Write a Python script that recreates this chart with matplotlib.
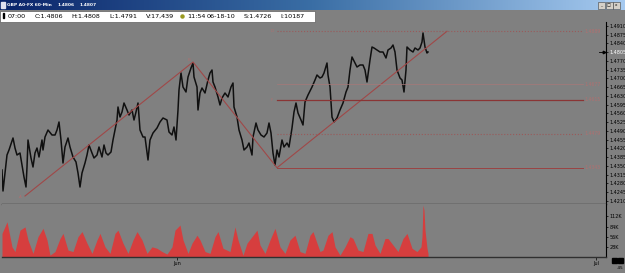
import numpy as np
import matplotlib.pyplot as plt
from matplotlib.patches import Rectangle
from matplotlib.colors import LinearSegmentedColormap

# GBP 60-min closes (bar position, price)
bars = [2, 3, 5, 7, 9, 13, 15, 17, 20, 22, 24, 26, 27, 28, 31, 33, 35, 37, 39, 42,
        43, 45, 48, 52, 55, 57, 59, 61, 63, 65, 68, 70, 73, 76, 78, 80, 82, 85, 87, 89,
        92, 94, 97, 99, 102, 104, 106, 108, 111, 113, 115, 117, 118, 120, 122, 124, 127, 129, 132, 134,
        136, 138, 140, 143, 145, 148, 150, 153, 157, 160, 163, 167, 169, 172, 174, 176, 178, 179, 181, 183,
        186, 188, 191, 193, 194, 197, 198, 200, 202, 205, 208, 210, 212, 213, 215, 218, 220, 222, 225, 228,
        231, 233, 234, 237, 239, 242, 244, 247, 249, 252, 253, 256, 258, 261, 264, 267, 269, 271, 273, 275,
        277, 279, 282, 284, 287, 289, 292, 294, 296, 298, 301, 303, 305, 308, 312, 315, 317, 320, 322, 324,
        327, 328, 330, 332, 334, 337, 340, 343, 346, 348, 350, 352, 355, 357, 360, 363, 365, 367, 370, 372,
        374, 377, 380, 383, 386, 388, 391, 393, 395, 397, 400, 402, 404, 406, 407, 410, 413, 415, 418, 420,
        422, 423, 425, 427, 428]
close = [1.4334, 1.4250, 1.4322, 1.4394, 1.4414, 1.4462, 1.4422, 1.4394, 1.4402, 1.4354,
         1.4306, 1.4266, 1.4346, 1.4454, 1.4382, 1.4346, 1.4402, 1.4422, 1.4386, 1.4454,
         1.4414, 1.4466, 1.4494, 1.4474, 1.4474, 1.4494, 1.4526, 1.4454, 1.4362, 1.4426,
         1.4462, 1.4426, 1.4386, 1.4366, 1.4322, 1.4266, 1.4322, 1.4362, 1.4394, 1.4434,
         1.4402, 1.4382, 1.4394, 1.4426, 1.4386, 1.4434, 1.4402, 1.4394, 1.4406, 1.4454,
         1.4494, 1.4534, 1.4586, 1.4546, 1.4566, 1.4602, 1.4574, 1.4554, 1.4574, 1.4534,
         1.4566, 1.4602, 1.4494, 1.4466, 1.4466, 1.4374, 1.4454, 1.4482, 1.4502, 1.4526,
         1.4542, 1.4534, 1.4486, 1.4474, 1.4506, 1.4454, 1.4574, 1.4654, 1.4722, 1.4666,
         1.4646, 1.4706, 1.4742, 1.4762, 1.4706, 1.4666, 1.4574, 1.4642, 1.4662, 1.4642,
         1.4694, 1.4722, 1.4734, 1.4686, 1.4666, 1.4626, 1.4594, 1.4622, 1.4642, 1.4626,
         1.4666, 1.4682, 1.4586, 1.4546, 1.4494, 1.4454, 1.4414, 1.4426, 1.4442, 1.4394,
         1.4466, 1.4522, 1.4494, 1.4474, 1.4466, 1.4482, 1.4522, 1.4482, 1.4402, 1.4354,
         1.4414, 1.4386, 1.4454, 1.4426, 1.4442, 1.4426, 1.4502, 1.4566, 1.4602, 1.4562,
         1.4534, 1.4514, 1.4606, 1.4634, 1.4666, 1.4694, 1.4714, 1.4702, 1.4706, 1.4722,
         1.4762, 1.4714, 1.4666, 1.4546, 1.4526, 1.4542, 1.4574, 1.4602, 1.4646, 1.4666,
         1.4734, 1.4786, 1.4762, 1.4746, 1.4754, 1.4754, 1.4734, 1.4686, 1.4774, 1.4826,
         1.4822, 1.4814, 1.4806, 1.4806, 1.4782, 1.4814, 1.4822, 1.4834, 1.4806, 1.4734,
         1.4702, 1.4694, 1.4646, 1.4734, 1.4826, 1.4814, 1.4806, 1.4822, 1.4814, 1.4822,
         1.4846, 1.4882, 1.4826, 1.4802, 1.4806]

# volume (thousands)
vol_bars = [2, 7, 12, 15, 20, 25, 28, 33, 38, 43, 47, 50, 55, 60, 63, 68, 73, 78, 82, 87,
            92, 97, 100, 105, 110, 115, 118, 123, 128, 133, 137, 142, 147, 152, 157, 162, 167, 172, 175, 180,
            183, 188, 192, 197, 200, 205, 210, 215, 218, 223, 230, 235, 238, 243, 247, 252, 257, 260, 265, 270,
            275, 280, 285, 290, 295, 300, 305, 310, 313, 317, 320, 323, 328, 332, 335, 340, 345, 350, 353, 358,
            363, 368, 372, 375, 380, 385, 388, 393, 398, 403, 407, 412, 417, 421, 422, 423, 424, 425, 427, 428]
volume = [65, 97, 28, 15, 74, 83, 47, 10, 56, 79, 47, 5, 15, 51, 65, 19, 15, 56, 70, 38,
          10, 47, 65, 28, 10, 65, 74, 38, 10, 47, 70, 47, 10, 28, 24, 15, 8, 28, 74, 88,
          47, 10, 38, 60, 47, 15, 10, 56, 70, 24, 15, 83, 47, 5, 38, 56, 74, 33, 10, 47,
          79, 28, 10, 47, 60, 15, 10, 60, 70, 38, 15, 19, 60, 70, 28, 5, 28, 56, 51, 19,
          15, 65, 65, 33, 10, 51, 51, 33, 15, 51, 65, 24, 15, 28, 56, 143, 129, 74, 24, 10]

# A-B-C-D swing and projection levels
swing_bars = [25, 193, 277, 447]
swing_price = [1.4230, 1.4766, 1.4343, 1.4889]
fib_levels = [1.4889, 1.4677, 1.4615, 1.4479, 1.4343]
fib_labels = ['1.4889', '1.4677', '1.4615', '1.4479', '1.4343']

price_ticks = [1.4910, 1.4875, 1.4840, 1.4805, 1.4770, 1.4735, 1.4700, 1.4665, 1.4630, 1.4595, 1.4560,
               1.4525, 1.4490, 1.4455, 1.4420, 1.4385, 1.4350, 1.4315, 1.4280, 1.4245, 1.4210]
vol_ticks = [28, 56, 84, 112]
vol_tick_labels = ['28K', '56K', '84K', '112K']
month_bars = [177, 596]
month_labels = ['Jun', 'Jul']
last_price = 1.4805

W, H = 625, 273
BG = '#808080'
RED = '#a04848'

fig = plt.figure(figsize=(6.25, 2.73), dpi=100, facecolor=BG)

# price panel
ax = fig.add_axes([2 / W, 1 - 204 / H, 604 / W, 182 / H])
ax.set_facecolor(BG)
ax.plot(bars, close, color='#101010', lw=1.1)
ax.plot(swing_bars, swing_price, color=RED, lw=0.8)
styles = [(':', 0.8, '#9a5a5a'), ('-', 0.5, '#a87878'), ('-', 0.9, '#8a3434'),
          (':', 0.8, '#9a5a5a'), ('-', 0.7, '#9a4444')]
for lev, lab, (ls, lw, c) in zip(fib_levels, fib_labels, styles):
    ax.plot([277, 583], [lev, lev], ls=ls, lw=lw, color=c)
    ax.text(584, lev, lab, fontsize=3.3, color='#b07070', va='center', ha='left')
ax.text(20, 1.4226, 'A', fontsize=3, color='#b07070', ha='center', va='center')
ax.text(189, 1.4772, 'B', fontsize=3, color='#b07070', ha='center', va='center')
ax.text(272, 1.4338, 'C', fontsize=3, color='#b07070', ha='center', va='center')
ax.text(272, 1.4889, 'D', fontsize=3, color='#b07070', ha='center', va='center')
ax.text(272, 1.4615, 'F', fontsize=3, color='#b07070', ha='center', va='center')
ax.set_xlim(2, 606)
ax.set_ylim(1.4198, 1.4926)
ax.yaxis.tick_right()
ax.set_yticks(price_ticks)
ax.set_yticklabels(['%.4f' % v for v in price_ticks])
ax.tick_params(axis='y', length=1.5, width=0.5, pad=0.8, labelsize=3.5)
ax.set_xticks([])
for lbl, v in zip(ax.get_yticklabels(), price_ticks):
    if v == last_price:
        lbl.set_color('white')
ax.plot([599, 603], [last_price, last_price], color='black', lw=0.6, clip_on=False)
ax.plot([604], [last_price], marker='>', ms=1.8, color='black', clip_on=False)
for s in ['top', 'left']:
    ax.spines[s].set_visible(False)
ax.spines['bottom'].set_color('#303030')
ax.spines['bottom'].set_linewidth(1.0)
ax.spines['right'].set_color('black')
ax.spines['right'].set_linewidth(0.8)

# volume panel
av = fig.add_axes([2 / W, 1 - 257 / H, 604 / W, 53 / H])
av.set_facecolor(BG)
av.fill_between(vol_bars, volume, color='#d63e3e', lw=0)
av.set_xlim(2, 606)
av.set_ylim(0, 146)
av.yaxis.tick_right()
av.set_yticks(vol_ticks)
av.set_yticklabels(vol_tick_labels)
av.tick_params(axis='y', length=1.5, width=0.5, pad=0.8, labelsize=3.5)
av.set_xticks(month_bars)
av.set_xticklabels(month_labels)
av.tick_params(axis='x', length=2, width=0.5, pad=1, labelsize=3.5)
for s in ['top', 'left']:
    av.spines[s].set_visible(False)
av.spines['bottom'].set_color('#303030')
av.spines['bottom'].set_linewidth(1.0)
av.spines['right'].set_color('black')
av.spines['right'].set_linewidth(0.8)

# window chrome, in pixel coordinates
ui = fig.add_axes([0, 0, 1, 1])
ui.patch.set_visible(False)
ui.axis('off')
grad = np.linspace(0, 1, 256).reshape(1, -1)
cmap = LinearSegmentedColormap.from_list('title', ['#0a246a', '#3a6ea5', '#a6caf0'])
ui.imshow(grad, cmap=cmap, aspect='auto', extent=[0, W, 10, 0])
ui.set_xlim(0, W)
ui.set_ylim(H, 0)
ui.add_patch(Rectangle((1, 1.5), 4, 6, color='#e0e0f0'))
ui.text(7, 5.5, 'GBP A0-FX 60-Min', color='white', fontsize=3.2, fontweight='bold', va='center')
ui.text(58, 5.5, '1.4806', color='white', fontsize=3.2, fontweight='bold', va='center')
ui.text(80, 5.5, '1.4807', color='white', fontsize=3.2, fontweight='bold', va='center')
for bx, glyph in zip([598, 605.5, 613], ['_', '□', 'x']):
    ui.add_patch(Rectangle((bx, 1.5), 7, 7, facecolor='#d4d0c8', edgecolor='#404040', lw=0.4))
    ui.text(bx + 3.5, 5, glyph, fontsize=3, ha='center', va='center', color='black')

ui.add_patch(Rectangle((0, 10.5), 315, 11.5, facecolor='white', edgecolor='#606060', lw=0.5))
ui.add_patch(Rectangle((2.5, 13), 1, 5, color='black'))
info = [('07:00', 8), ('C:1.4806', 35), ('H:1.4808', 71), ('L:1.4791', 109),
        ('V:17,439', 146), ('11:54', 187), ('06-18-10', 207), ('S:1.4726', 244), ('I:10187', 280)]
for txt, x in info:
    ui.text(x, 16.5, txt, fontsize=4.6, va='center', ha='left', color='black')
ui.plot([182], [16.3], marker='o', ms=2.2, color='#9a9a20')

# bottom right corner
ui.add_patch(Rectangle((612, 258), 5, 5, color='black'))
ui.add_patch(Rectangle((618, 258), 5, 5, color='black'))
ui.text(623, 268, '-45', fontsize=3, ha='right', va='center', color='black')

fig.savefig('out.png', dpi=100, facecolor=BG)
